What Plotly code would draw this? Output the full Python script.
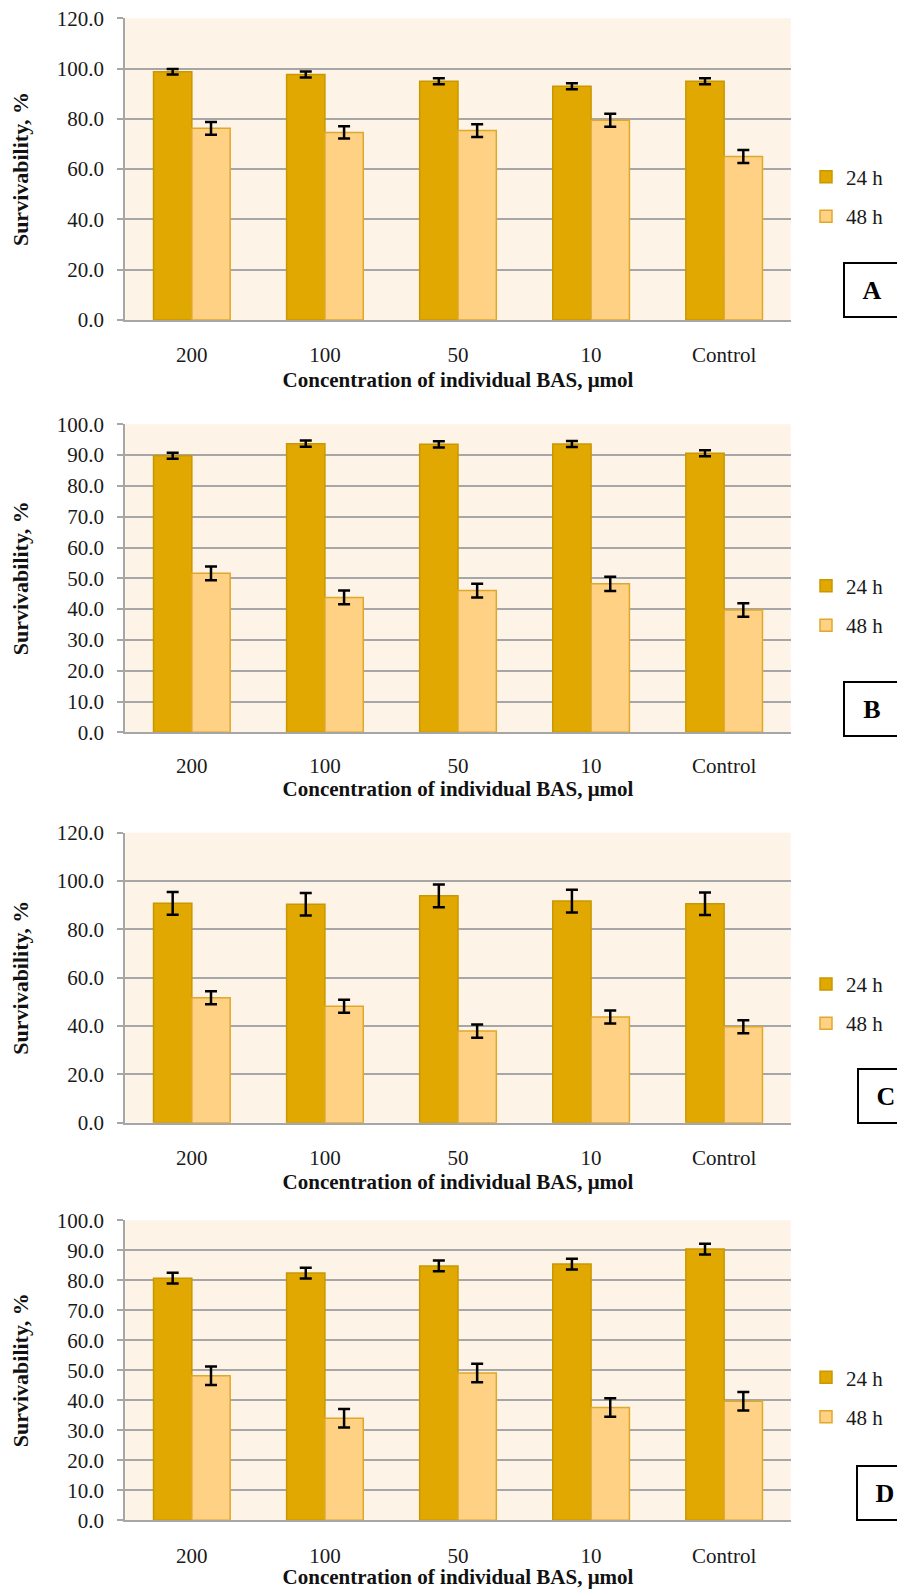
import plotly.graph_objects as go

categories = ["200", "100", "50", "10", "Control"]
series_names = ["24 h", "48 h"]

a_24 = [98.7, 97.6, 94.9, 92.9, 94.9]
a_48 = [76.2, 74.6, 75.3, 79.4, 65.0]
a_24_err = [1.1, 1.2, 1.2, 1.2, 1.2]
a_48_err = [2.5, 2.4, 2.5, 2.6, 2.6]

b_24 = [89.8, 93.7, 93.5, 93.6, 90.6]
b_48 = [51.6, 43.8, 46.0, 48.2, 39.7]
b_24_err = [1.0, 1.0, 1.0, 1.0, 1.0]
b_48_err = [2.2, 2.2, 2.2, 2.3, 2.2]

c_24 = [90.8, 90.4, 93.9, 91.7, 90.6]
c_48 = [51.7, 48.2, 37.9, 43.7, 39.7]
c_24_err = [4.7, 4.7, 4.7, 4.7, 4.7]
c_48_err = [2.7, 2.7, 2.7, 2.7, 2.7]

d_24 = [80.7, 82.4, 84.8, 85.4, 90.4]
d_48 = [48.2, 34.0, 49.1, 37.6, 39.7]
d_24_err = [1.8, 1.8, 1.8, 1.8, 1.8]
d_48_err = [3.1, 3.1, 3.1, 3.1, 3.1]

panel_labels = ["A", "B", "C", "D"]
y_max = [120, 100, 120, 100]
y_dtick = [20, 10, 20, 10]

x_title = "Concentration of individual BAS, μmol"
y_title = "Survivability, %"

# page is 905x1589, but the HTML body has an 8px default margin
OFF = 8
W, H = 905 - OFF, 1589 - OFF
FONT = "Liberation Serif"
C24, C24_EDGE = "#E0A800", "#C99800"
C48, C48_EDGE = "#FED184", "#E0A82A"
GRID = "#A6A6A6"
BG = "#FEF3E7"
TXT = "#1a1a1a"

# panel pixel geometry in page coordinates: (top, bottom) of plot area
panels_px = [(18.2, 320.0), (424.3, 732.3), (832.7, 1122.7), (1220.3, 1520.3)]
x_px = (125.3, 790.7)
legend_centers = [196.7, 605.7, 1003.8, 1397.2]
label_boxes = [(872, 290), (872, 709), (886, 1095.5), (885, 1493)]
x_title_standoff = [6, 0, 0, 0]
x_tick_standoff = [15, 13, 15, 15]

data = [
    (a_24, a_24_err, a_48, a_48_err),
    (b_24, b_24_err, b_48, b_48_err),
    (c_24, c_24_err, c_48, c_48_err),
    (d_24, d_24_err, d_48, d_48_err),
]


def fx(px):
    return (px - OFF) / W


def fy(py):
    return 1 - (py - OFF) / H


fig = go.Figure()
layout = dict(
    width=W, height=H,
    margin=dict(l=0, r=0, t=0, b=0, autoexpand=False),
    paper_bgcolor="white",
    plot_bgcolor=BG,
    barmode="group",
    bargap=0.424,
    bargroupgap=0,
    font=dict(family=FONT, size=21, color=TXT),
    annotations=[],
)

for i, (v24, e24, v48, e48) in enumerate(data):
    n = i + 1
    xa = "x" if n == 1 else f"x{n}"
    ya = "y" if n == 1 else f"y{n}"
    lg = "legend" if n == 1 else f"legend{n}"
    for name, vals, errs, fc, ec, grp in [
        (series_names[0], v24, e24, C24, C24_EDGE, "g1"),
        (series_names[1], v48, e48, C48, C48_EDGE, "g2"),
    ]:
        fig.add_trace(go.Bar(
            x=categories, y=vals, name=name,
            xaxis=xa, yaxis=ya, legend=lg, legendgroup=f"{grp}_{n}",
            marker=dict(color=fc, line=dict(color=ec, width=1.5)),
            error_y=dict(type="data", array=errs, visible=True,
                         color="black", thickness=2.5, width=6),
        ))
    top, bot = panels_px[i]
    layout[f"xaxis{'' if n == 1 else n}"] = dict(
        domain=[fx(x_px[0]), fx(x_px[1])], anchor=ya,
        type="category", automargin=False,
        showline=True, linecolor=GRID, linewidth=2,
        ticks="", ticklabelstandoff=x_tick_standoff[i],
        tickfont=dict(size=21, family=FONT, color=TXT),
        title=dict(text=f"<b>{x_title}</b>", standoff=x_title_standoff[i],
                   font=dict(size=21, family=FONT, color="#111")),
        showgrid=False, fixedrange=True,
    )
    layout[f"yaxis{'' if n == 1 else n}"] = dict(
        domain=[fy(bot), fy(top)], anchor=xa, automargin=False,
        range=[0, y_max[i]], dtick=y_dtick[i], tick0=0,
        tickformat=".1f", ticklabeloverflow="allow",
        showline=True, linecolor=GRID, linewidth=2,
        ticks="outside", ticklen=6, tickcolor=GRID, tickwidth=2,
        ticklabelstandoff=9,
        showgrid=True, gridcolor=GRID, gridwidth=2,
        zeroline=False,
        tickfont=dict(size=21, family=FONT, color=TXT),
        title=dict(text=f"<b>{y_title}</b>", standoff=22,
                   font=dict(size=22, family=FONT, color="#111")),
        fixedrange=True,
    )
    layout[lg] = dict(
        x=fx(806), xanchor="left",
        y=fy(legend_centers[i]), yanchor="middle",
        bgcolor="rgba(0,0,0,0)",
        font=dict(size=21, family=FONT, color=TXT),
        tracegroupgap=9, itemwidth=30,
    )
    bx, by = label_boxes[i]
    layout["annotations"].append(dict(
        x=fx(bx), y=fy(by), xref="paper", yref="paper",
        text=f"<b>{panel_labels[i]}</b>", showarrow=False,
        font=dict(size=26, family=FONT, color="black"),
        bordercolor="black", borderwidth=2, bgcolor="white",
        width=52, height=50, xanchor="center", yanchor="middle",
    ))

fig.update_layout(**layout)
fig.write_html("out.html")
